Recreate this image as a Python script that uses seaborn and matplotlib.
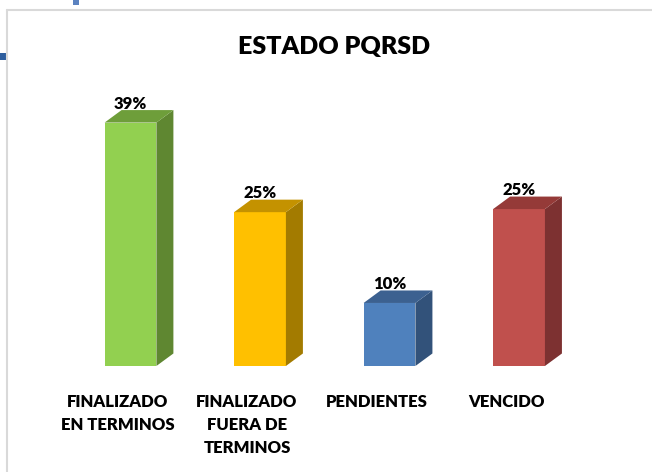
import numpy as np
import pandas as pd
import matplotlib
matplotlib.use("Agg")
import matplotlib.pyplot as plt
import matplotlib.transforms as mtransforms
from matplotlib.patches import Polygon, Rectangle
from matplotlib.lines import Line2D
import seaborn as sns

# Datos
categorias = ["FINALIZADO\nEN TERMINOS", "FINALIZADO\nFUERA DE\nTERMINOS", "PENDIENTES", "VENCIDO"]
porcentajes = [0.394, 0.249, 0.102, 0.254]
etiquetas = ["39%", "25%", "10%", "25%"]
colores_frente = ["#92D050", "#FFC000", "#4F81BD", "#C0504D"]
colores_lado = ["#5F8731", "#A37B00", "#32527A", "#7D3131"]
colores_tapa = ["#6E9E3A", "#C49200", "#3C6190", "#953A38"]

sns.set_theme(style="white")
plt.rcParams["font.family"] = ["Lato", "DejaVu Sans"]

df = pd.DataFrame({"Estado": categorias, "Porcentaje": porcentajes})

W, H = 652, 472
fig = plt.figure(figsize=(W / 100, H / 100), dpi=100)
ax = fig.add_axes([0.0611, 0.2246, 0.874, 0.589])

sns.barplot(data=df, x="Estado", y="Porcentaje", hue="Estado", palette=colores_frente,
            width=0.4, saturation=1, legend=False, linewidth=0, ax=ax)

ax.set_xlim(-0.7, 3.7)
ax.set_ylim(0, 0.45)
ax.set_xlabel("")
ax.set_ylabel("")
ax.set_yticks([])
sns.despine(ax=ax, left=True, bottom=True)

# profundidad 3D en pixeles
dx_px, dy_px = 17, 12.5
px_x = ax.bbox.width / (ax.get_xlim()[1] - ax.get_xlim()[0])
px_y = ax.bbox.height / (ax.get_ylim()[1] - ax.get_ylim()[0])
dx, dy = dx_px / px_x, dy_px / px_y

peso = "heavy"
for i, bar in enumerate(ax.patches):
    x0 = bar.get_x()
    x1 = x0 + bar.get_width()
    h = bar.get_height()
    lado = Polygon([(x1, 0), (x1 + dx, dy), (x1 + dx, h + dy), (x1, h)],
                   closed=True, facecolor=colores_lado[i], edgecolor="none", clip_on=False)
    tapa = Polygon([(x0, h), (x1, h), (x1 + dx, h + dy), (x0 + dx, h + dy)],
                   closed=True, facecolor=colores_tapa[i], edgecolor="none", clip_on=False)
    ax.add_patch(lado)
    ax.add_patch(tapa)
    ax.annotate(etiquetas[i], xy=(x0 + bar.get_width() / 2, h), xytext=(0, dy_px + 1.5),
                textcoords="offset pixels", ha="center", va="baseline",
                fontsize=12, fontweight=peso, color="black")

ax.set_xticks(range(len(categorias)))
ax.set_xticklabels(categorias, fontsize=12, fontweight=peso, color="black", linespacing=1.53)
ax.tick_params(axis="x", length=0, pad=20.5)
desplazar = mtransforms.ScaledTranslation(-13 / 100, 0, fig.dpi_scale_trans)
for lbl in ax.get_xticklabels():
    lbl.set_transform(lbl.get_transform() + desplazar)

fig.text(334 / W, 1 - 54 / H, "ESTADO PQRSD", ha="center", va="baseline",
         fontsize=18, fontweight=peso, color="black")

# marco del área del gráfico
fig.add_artist(Line2D([7 / W, 7 / W], [0, 1 - 10 / H], transform=fig.transFigure,
                      color="#d9d9d9", lw=1.5))
fig.add_artist(Line2D([7 / W, 1], [1 - 10 / H, 1 - 10 / H], transform=fig.transFigure,
                      color="#d9d9d9", lw=1.5))
fig.add_artist(Rectangle((0, 1 - 60 / H), 6 / W, 7 / H, transform=fig.transFigure,
                         facecolor="#2E5E9E", edgecolor="none"))
fig.add_artist(Rectangle((73 / W, 1 - 5 / H), 6 / W, 5 / H, transform=fig.transFigure,
                         facecolor="#5B82C0", edgecolor="none"))

fig.savefig("out.png", dpi=100)
